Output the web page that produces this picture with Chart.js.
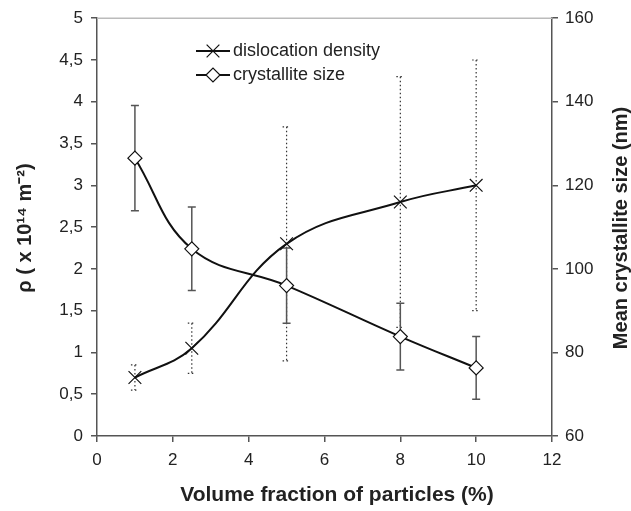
<!DOCTYPE html>
<html>
<head>
<meta charset="utf-8">
<script src="https://cdn.jsdelivr.net/npm/chart.js@4.4.1/dist/chart.umd.min.js"></script>
<style>
  html, body { margin: 0; padding: 0; background: #fff; }
  #wrap { width: 631px; height: 511px; }
</style>
</head>
<body>
<div id="wrap"><canvas id="grafik"></canvas></div>
<script>
// data
const volumeFraction = [1, 2.5, 5, 8, 10];
const dislocation = [0.7, 1.05, 2.3, 2.8, 3.0];
const dislocationErr = [0.15, 0.3, 1.4, 1.5, 1.5];
const crystallite = [126.5, 104.8, 96, 83.8, 76.3];
const crystalliteErr = [12.6, 10, 9, 8, 7.5];

const xTicks = [0, 2, 4, 6, 8, 10, 12];
const rhoTicks = [0, 0.5, 1, 1.5, 2, 2.5, 3, 3.5, 4, 4.5, 5];
const sizeTicks = [60, 80, 100, 120, 140, 160];

const FONT = '"Liberation Sans", Arial, sans-serif';
const axisColor = '#555';

function toPoints(xs, ys) {
    return xs.map((x, i) => ({ x: x, y: ys[i] }));
}

const errorBars = {
    id: 'errorBars',
    beforeDatasetsDraw(chart) {
        const ctx = chart.ctx;
        const xs = chart.scales.x;
        chart.data.datasets.forEach((ds) => {
            const ys = chart.scales[ds.yAxisID];
            ctx.save();
            ctx.strokeStyle = ds.errColor;
            ctx.lineWidth = ds.errWidth;
            ctx.setLineDash(ds.errDash);
            ds.data.forEach((p, i) => {
                const px = xs.getPixelForValue(p.x);
                const top = ys.getPixelForValue(p.y + ds.errors[i]);
                const bot = ys.getPixelForValue(p.y - ds.errors[i]);
                ctx.beginPath();
                ctx.moveTo(px, top);
                ctx.lineTo(px, bot);
                ctx.moveTo(px - 4, top);
                ctx.lineTo(px + 4, top);
                ctx.moveTo(px - 4, bot);
                ctx.lineTo(px + 4, bot);
                ctx.stroke();
            });
            ctx.restore();
        });
    }
};

const decorations = {
    id: 'decorations',
    afterDraw(chart) {
        const ctx = chart.ctx;
        const area = chart.chartArea;
        ctx.save();
        // light top frame
        ctx.strokeStyle = '#bbb';
        ctx.lineWidth = 1.5;
        ctx.beginPath();
        ctx.moveTo(area.left, area.top);
        ctx.lineTo(area.right, area.top);
        ctx.stroke();

        // legend
        chart.data.datasets.forEach((ds, i) => {
            const y = 51 + i * 24;
            ctx.strokeStyle = '#111';
            ctx.lineWidth = 2;
            ctx.beginPath();
            ctx.moveTo(196, y);
            ctx.lineTo(230, y);
            ctx.stroke();
            ctx.fillStyle = '#fff';
            ctx.lineWidth = 1.2;
            Chart.helpers.drawPoint(ctx, {
                pointStyle: ds.pointStyle, radius: ds.pointRadius, rotation: 0, borderWidth: 1.2
            }, 213, y);
            ctx.fillStyle = '#222';
            ctx.font = '18px ' + FONT;
            ctx.textAlign = 'left';
            ctx.textBaseline = 'middle';
            ctx.fillText(ds.label, 233, y);
        });

        // axis titles
        ctx.fillStyle = '#222';
        ctx.font = 'bold 21px ' + FONT;
        ctx.textAlign = 'center';
        ctx.textBaseline = 'alphabetic';
        ctx.fillText('Volume fraction of particles (%)', 337, 501);

        ctx.font = 'bold 20px ' + FONT;
        ctx.textBaseline = 'middle';
        ctx.translate(25, 228);
        ctx.rotate(-Math.PI / 2);
        ctx.fillText('\u03C1 ( x 10\u00B9\u2074 m\u207B\u00B2)', 0, 0);
        ctx.restore();

        ctx.save();
        ctx.fillStyle = '#222';
        ctx.font = 'bold 20px ' + FONT;
        ctx.textAlign = 'center';
        ctx.textBaseline = 'middle';
        ctx.translate(621, 228);
        ctx.rotate(-Math.PI / 2);
        ctx.fillText('Mean crystallite size (nm)', 0, 0);
        ctx.restore();
    }
};

function axisStyle(extra) {
    return Object.assign({
        grid: { display: true, drawOnChartArea: false, drawTicks: true, tickLength: 6, color: axisColor, lineWidth: 1.5 },
        border: { display: true, color: axisColor, width: 1.5 }
    }, extra);
}

const ctx = document.getElementById('grafik');
new Chart(ctx, {
    type: 'line',
    data: {
        datasets: [{
            label: 'dislocation density',
            data: toPoints(volumeFraction, dislocation),
            errors: dislocationErr,
            errColor: '#333',
            errWidth: 1.2,
            errDash: [1.5, 2.5],
            yAxisID: 'y',
            borderColor: '#111',
            borderWidth: 2,
            tension: 0.4,
            pointStyle: 'crossRot',
            pointRadius: 9,
            pointBorderColor: '#111',
            pointBorderWidth: 1.2,
            pointBackgroundColor: '#fff'
        }, {
            label: 'crystallite size',
            data: toPoints(volumeFraction, crystallite),
            errors: crystalliteErr,
            errColor: '#555',
            errWidth: 1.5,
            errDash: [],
            yAxisID: 'y1',
            borderColor: '#111',
            borderWidth: 2,
            tension: 0.4,
            pointStyle: 'rectRot',
            pointRadius: 7,
            pointBorderColor: '#111',
            pointBorderWidth: 1.2,
            pointBackgroundColor: '#fff'
        }]
    },
    options: {
        responsive: true,
        maintainAspectRatio: false,
        animation: false,
        devicePixelRatio: 1,
        layout: { padding: { top: 16, left: 0, right: 0, bottom: 0 } },
        plugins: { legend: { display: false }, tooltip: { enabled: false } },
        scales: {
            x: axisStyle({
                type: 'linear', min: 0, max: 12,
                afterBuildTicks: (s) => { s.ticks = xTicks.map(v => ({ value: v })); },
                afterFit: (s) => { s.height = 75; },
                ticks: { color: '#222', font: { family: FONT, size: 17 }, padding: 8 }
            }),
            y: axisStyle({
                type: 'linear', position: 'left', min: 0, max: 5,
                afterBuildTicks: (s) => { s.ticks = rhoTicks.map(v => ({ value: v })); },
                afterFit: (s) => { s.width = 97; },
                ticks: {
                    color: '#222', font: { family: FONT, size: 17 }, padding: 8,
                    callback: (v) => String(v).replace('.', ',')
                }
            }),
            y1: axisStyle({
                type: 'linear', position: 'right', min: 60, max: 160,
                afterBuildTicks: (s) => { s.ticks = sizeTicks.map(v => ({ value: v })); },
                afterFit: (s) => { s.width = 79; },
                ticks: { color: '#222', font: { family: FONT, size: 17 }, padding: 7 }
            })
        }
    },
    plugins: [errorBars, decorations]
});
</script>
</body>
</html>
